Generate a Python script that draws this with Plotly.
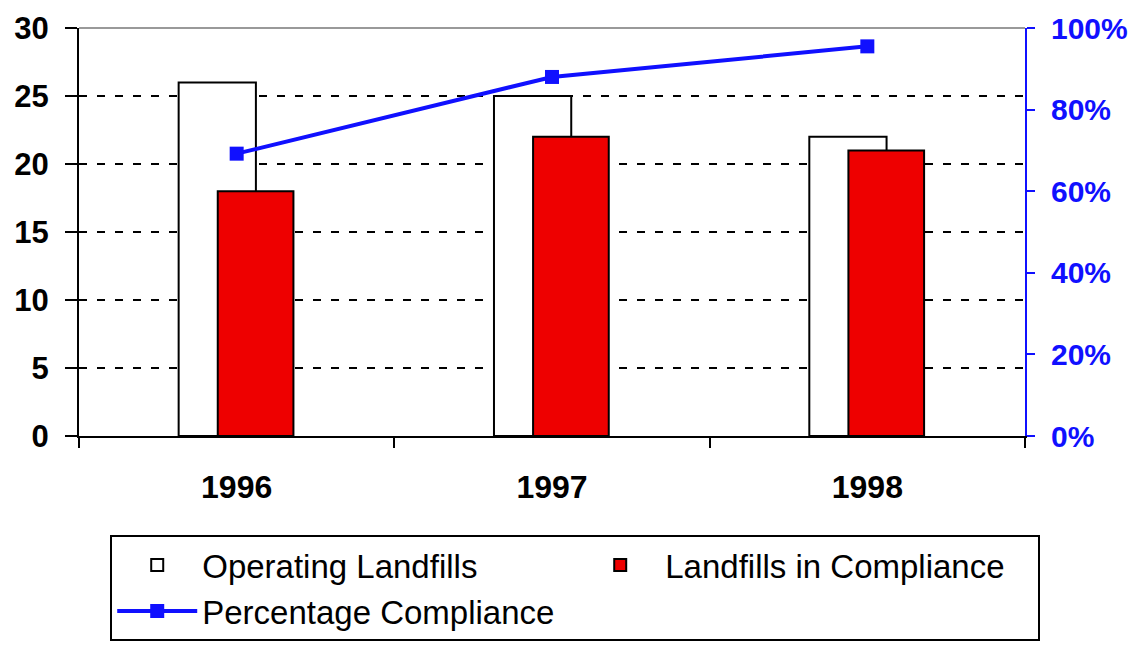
import plotly.graph_objects as go

years = ["1996", "1997", "1998"]
operating = [26, 25, 22]
compliance = [18, 22, 21]
pct = [69.2, 88.0, 95.5]
left_ticks = [0, 5, 10, 15, 20, 25, 30]
right_ticks = [0, 20, 40, 60, 80, 100]
right_labels = ["0%", "20%", "40%", "60%", "80%", "100%"]

fig = go.Figure()
fig.add_trace(go.Bar(
    x=years, y=operating, name="Operating Landfills",
    marker=dict(color="white", line=dict(color="black", width=2)),
    width=0.245, offset=-0.184, yaxis="y",
))
fig.add_trace(go.Bar(
    x=years, y=compliance, name="Landfills in Compliance",
    marker=dict(color="#EE0000", line=dict(color="black", width=2)),
    width=0.24, offset=-0.06, yaxis="y",
))
fig.add_trace(go.Scatter(
    x=years, y=pct, name="Percentage Compliance", mode="lines+markers",
    line=dict(color="#1010FF", width=4),
    marker=dict(symbol="square", size=14, color="#1010FF"),
    yaxis="y2",
))

fig.update_layout(
    width=1141, height=650,
    margin=dict(l=71, r=124, t=20, b=222, autoexpand=False),
    paper_bgcolor="white", plot_bgcolor="white",
    barmode="overlay",
    font=dict(family="Liberation Sans", color="black"),
    xaxis=dict(
        type="category", tickson="boundaries", ticks="outside", ticklen=10,
        tickwidth=2, tickcolor="black", showline=True, linecolor="black",
        linewidth=2, showgrid=False, range=[-0.5, 2.5], automargin=False,
        tickfont=dict(family="Liberation Sans", size=32, color="black", weight="bold"),
        ticklabelstandoff=22,
    ),
    yaxis=dict(
        range=[0, 30], tickvals=left_ticks, ticks="outside", ticklen=12,
        tickwidth=2, tickcolor="black", showline=True, linecolor="black",
        linewidth=2, showgrid=True, gridcolor="black", gridwidth=2,
        griddash="8px,10px", zeroline=False, automargin=False,
        tickfont=dict(family="Liberation Sans", size=31, color="black", weight="bold"),
        ticklabelstandoff=10,
    ),
    yaxis2=dict(
        range=[0, 100], tickvals=right_ticks, ticktext=right_labels,
        overlaying="y", side="right", ticks="outside", ticklen=8, tickwidth=2,
        tickcolor="#1010FF", showline=True, linecolor="#1010FF", linewidth=2,
        showgrid=False, zeroline=False, automargin=False,
        tickfont=dict(family="Liberation Sans", size=30, color="#1010FF", weight="bold"),
        ticklabelstandoff=10,
    ),
    legend=dict(
        orientation="h", x=0.033, y=-0.243, xanchor="left", yanchor="top",
        bordercolor="black", borderwidth=2, bgcolor="white",
        font=dict(family="Liberation Sans", size=33, color="black"),
        entrywidth=368, traceorder="normal", itemwidth=80,
    ),
    showlegend=True,
)
fig.add_shape(type="line", xref="paper", yref="paper", x0=0, x1=1, y0=1, y1=1,
              line=dict(color="#999999", width=2))
fig.write_html("out.html")
